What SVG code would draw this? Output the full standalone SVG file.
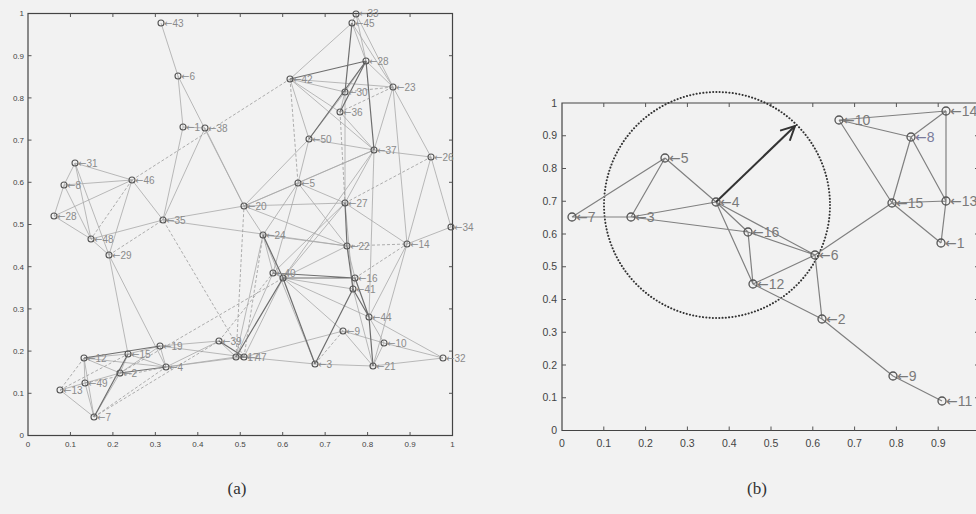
<svg xmlns="http://www.w3.org/2000/svg" width="976" height="514" viewBox="0 0 976 514">
<style>
.bg{fill:#f2f2f2}
.frame{fill:none;stroke:#444;stroke-width:1.2}
.tick{fill:none;stroke:#555;stroke-width:1}
.tl{font-family:"Liberation Sans","DejaVu Sans",sans-serif;fill:#444}
.tla{font-size:8px}
.tlb{font-size:10.5px}
.cap{font-family:"Liberation Serif","DejaVu Serif",serif;font-size:17px;fill:#333;text-anchor:middle}
.e{stroke:#a8a8a8;stroke-width:0.8;fill:none}
.ed{stroke:#6e6e6e;stroke-width:1.2;fill:none}
.eq{stroke:#9a9a9a;stroke-width:0.8;stroke-dasharray:3 2;fill:none}
.eb{stroke:#808080;stroke-width:1.2;fill:none}
.na circle{fill:none;stroke:#555;stroke-width:1.1}
.na text{font-family:"Liberation Sans","DejaVu Sans",sans-serif;font-size:10px;fill:#8a8a8a}
.nb circle{fill:none;stroke:#555;stroke-width:1.3}
.nb text{font-family:"Liberation Sans","DejaVu Sans",sans-serif;font-size:14px;fill:#7a7a7a}
.ar{font-family:"DejaVu Sans",sans-serif}
.ring{fill:none;stroke:#333;stroke-width:2;stroke-dasharray:0.1 3.2;stroke-linecap:round}
.dir{stroke:#333;stroke-width:2;fill:none}
</style>
<defs>
<marker id="arr" viewBox="0 0 16 16" refX="15" refY="8" markerWidth="16" markerHeight="16" markerUnits="userSpaceOnUse" orient="auto"><path d="M1,1 L15,8 L1,15" fill="none" stroke="#333" stroke-width="2"/></marker>
</defs>
<rect class="bg" x="0" y="0" width="976" height="514"/>

<!-- Panel (a) axes -->
<g id="axes-a">
<rect class="frame" x="28" y="13.5" width="424.5" height="422"/>
<path class="tick" d="M70.45,435.5v-3.5M112.9,435.5v-3.5M155.35,435.5v-3.5M197.8,435.5v-3.5M240.25,435.5v-3.5M282.7,435.5v-3.5M325.15,435.5v-3.5M367.6,435.5v-3.5M410.05,435.5v-3.5
M70.45,13.5v3.5M112.9,13.5v3.5M155.35,13.5v3.5M197.8,13.5v3.5M240.25,13.5v3.5M282.7,13.5v3.5M325.15,13.5v3.5M367.6,13.5v3.5M410.05,13.5v3.5
M28,393.3h3.5M28,351.1h3.5M28,308.9h3.5M28,266.7h3.5M28,224.5h3.5M28,182.3h3.5M28,140.1h3.5M28,97.9h3.5M28,55.7h3.5
M452.5,393.3h-3.5M452.5,351.1h-3.5M452.5,308.9h-3.5M452.5,266.7h-3.5M452.5,224.5h-3.5M452.5,182.3h-3.5M452.5,140.1h-3.5M452.5,97.9h-3.5M452.5,55.7h-3.5"/>
<g class="tl tla" text-anchor="end">
<text x="24" y="438">0</text><text x="24" y="396">0.1</text><text x="24" y="354">0.2</text><text x="24" y="311.5">0.3</text><text x="24" y="269.5">0.4</text><text x="24" y="227">0.5</text><text x="24" y="185">0.6</text><text x="24" y="143">0.7</text><text x="24" y="100.5">0.8</text><text x="24" y="58.5">0.9</text><text x="24" y="16">1</text>
</g>
<g class="tl tla" text-anchor="middle">
<text x="28" y="447">0</text><text x="70.45" y="447">0.1</text><text x="112.9" y="447">0.2</text><text x="155.35" y="447">0.3</text><text x="197.8" y="447">0.4</text><text x="240.25" y="447">0.5</text><text x="282.7" y="447">0.6</text><text x="325.15" y="447">0.7</text><text x="367.6" y="447">0.8</text><text x="410.05" y="447">0.9</text><text x="452.5" y="447">1</text>
</g>
</g>

<!-- Panel (a) connectors -->
<g id="connectors-a">
<path class="e" d="M161,23L178,76M178,76L183,127M178,76L244,206M183,127L205,128M183,127L163,220M205,128L163,220M205,128L244,206
M75,163L64,185M75,163L132,180M75,163L91,239M75,163L109,255M64,185L132,180M64,185L54,216M64,185L91,239M54,216L132,180M54,216L91,239
M132,180L163,220M132,180L109,255M91,239L163,220M91,239L109,255M109,255L128,354M109,255L166,367M163,220L244,206M163,220L347,246
M84,358L128,354M84,358L85,383M84,358L120,373M84,358L94,417M128,354L160,346M128,354L120,373M128,354L166,367M120,373L85,383M120,373L94,417
M85,383L60,390M85,383L94,417M60,390L94,417M160,346L219,341M160,346L166,367M166,367L219,341M166,367L236,357M160,346L244,357M219,341L236,357
M120,373L160,346M166,367L244,357M84,358L166,367
M244,206L298,183M244,206L345,203M244,206L263,235M244,206L309,139M244,206L374,150M244,206L347,246
M298,183L309,139M298,183L345,203M298,183L263,235M298,183L273,273M298,183L347,246M298,183L374,150
M263,235L347,246M263,235L315,364M263,235L273,273M273,273L283,278M283,278L353,289M283,278L347,246M283,278L345,203M273,273L345,203
M283,278L369,317M283,278L343,331M273,273L236,357M283,278L244,357M283,278L374,150
M345,203L353,289M345,203L374,150M345,203L407,244M347,246L355,278M355,278L353,289M353,289L373,366M369,317L384,343M369,317L443,358
M407,244L369,317M407,244L373,366M407,244L451,227M407,244L431,157M343,331L384,343M343,331L373,366M343,331L244,357
M315,364L373,366M373,366L443,358M315,364L244,357M384,343L443,358M384,343L373,366M374,150L369,317
M431,157L374,150M431,157L393,87M431,157L451,227M374,150L340,112M374,150L309,139M374,150L393,87
M340,112L345,92M340,112L290,79M345,92L290,79M345,92L366,61M345,92L345,203M345,92L309,139
M290,79L352,23M290,79L393,87M290,79L309,139M290,79L374,150M352,23L366,61M352,23L393,87M356,14L352,23M356,14L366,61M356,14L393,87
M366,61L393,87M393,87L407,244M236,357L244,357M236,357L263,235"/>
<path class="ed" d="M352,23L345,92M290,79L366,61M366,61L340,112M366,61L309,139M283,278L355,278M273,273L355,278M263,235L283,278
M345,203L347,246M347,246L353,289M353,289L369,317M369,317L373,366M355,278L369,317M353,289L315,364M366,61L374,150M283,278L315,364
M84,358L160,346M120,373L166,367M219,341L244,357M128,354L94,417M283,278L236,357"/>
<path class="eq" d="M132,180L290,79M132,180L91,239M109,255L163,220M60,390L128,354M84,358L60,390M94,417L166,367M85,383L166,367
M120,373L283,278M94,417L219,341M219,341L273,273M345,203L431,157M347,246L407,244M355,278L407,244M343,331L315,364
M340,112L345,203M340,112L393,87M345,92L393,87M290,79L298,183M244,357L163,220M244,357L263,235M236,357L244,206"/>
</g>

<!-- Panel (a) nodes -->
<g class="na">
<g id="a43"><circle cx="161" cy="23" r="3"/><text x="164" y="26.5"><tspan class="ar">←</tspan>43</text></g>
<g id="a6"><circle cx="178" cy="76" r="3"/><text x="181" y="79.5"><tspan class="ar">←</tspan>6</text></g>
<g id="a1"><circle cx="183" cy="127" r="3"/><text x="186" y="130.5"><tspan class="ar">←</tspan>1</text></g>
<g id="a38"><circle cx="205" cy="128" r="3"/><text x="208" y="131.5"><tspan class="ar">←</tspan>38</text></g>
<g id="a31"><circle cx="75" cy="163" r="3"/><text x="78" y="166.5"><tspan class="ar">←</tspan>31</text></g>
<g id="a8"><circle cx="64" cy="185" r="3"/><text x="67" y="188.5"><tspan class="ar">←</tspan>8</text></g>
<g id="a46"><circle cx="132" cy="180" r="3"/><text x="135" y="183.5"><tspan class="ar">←</tspan>46</text></g>
<g id="a28b"><circle cx="54" cy="216" r="3"/><text x="57" y="219.5"><tspan class="ar">←</tspan>28</text></g>
<g id="a35"><circle cx="163" cy="220" r="3"/><text x="166" y="223.5"><tspan class="ar">←</tspan>35</text></g>
<g id="a48"><circle cx="91" cy="239" r="3"/><text x="94" y="242.5"><tspan class="ar">←</tspan>48</text></g>
<g id="a29"><circle cx="109" cy="255" r="3"/><text x="112" y="258.5"><tspan class="ar">←</tspan>29</text></g>
<g id="a33"><circle cx="356" cy="14" r="3"/><text x="359" y="16.5"><tspan class="ar">←</tspan>33</text></g>
<g id="a45"><circle cx="352" cy="23" r="3"/><text x="355" y="27"><tspan class="ar">←</tspan>45</text></g>
<g id="a28"><circle cx="366" cy="61" r="3"/><text x="369" y="64.5"><tspan class="ar">←</tspan>28</text></g>
<g id="a42"><circle cx="290" cy="79" r="3"/><text x="293" y="82.5"><tspan class="ar">←</tspan>42</text></g>
<g id="a23"><circle cx="393" cy="87" r="3"/><text x="396" y="90.5"><tspan class="ar">←</tspan>23</text></g>
<g id="a30"><circle cx="345" cy="92" r="3"/><text x="348" y="95.5"><tspan class="ar">←</tspan>30</text></g>
<g id="a36"><circle cx="340" cy="112" r="3"/><text x="343" y="115.5"><tspan class="ar">←</tspan>36</text></g>
<g id="a50"><circle cx="309" cy="139" r="3"/><text x="312" y="142.5"><tspan class="ar">←</tspan>50</text></g>
<g id="a37"><circle cx="374" cy="150" r="3"/><text x="377" y="153.5"><tspan class="ar">←</tspan>37</text></g>
<g id="a26"><circle cx="431" cy="157" r="3"/><text x="434" y="160.5"><tspan class="ar">←</tspan>26</text></g>
<g id="a5"><circle cx="298" cy="183" r="3"/><text x="301" y="186.5"><tspan class="ar">←</tspan>5</text></g>
<g id="a20"><circle cx="244" cy="206" r="3"/><text x="247" y="209.5"><tspan class="ar">←</tspan>20</text></g>
<g id="a27"><circle cx="345" cy="203" r="3"/><text x="348" y="206.5"><tspan class="ar">←</tspan>27</text></g>
<g id="a34"><circle cx="451" cy="227" r="3"/><text x="454" y="230.5"><tspan class="ar">←</tspan>34</text></g>
<g id="a24"><circle cx="263" cy="235" r="3"/><text x="266" y="238.5"><tspan class="ar">←</tspan>24</text></g>
<g id="a22"><circle cx="347" cy="246" r="3"/><text x="350" y="249.5"><tspan class="ar">←</tspan>22</text></g>
<g id="a14"><circle cx="407" cy="244" r="3"/><text x="410" y="247.5"><tspan class="ar">←</tspan>14</text></g>
<g id="a40"><circle cx="273" cy="273" r="3"/><text x="276" y="276.5"><tspan class="ar">←</tspan>40</text></g>
<g id="a11"><circle cx="283" cy="278" r="3"/></g>
<g id="a16"><circle cx="355" cy="278" r="3"/><text x="358" y="281.5"><tspan class="ar">←</tspan>16</text></g>
<g id="a41"><circle cx="353" cy="289" r="3"/><text x="356" y="292.5"><tspan class="ar">←</tspan>41</text></g>
<g id="a44"><circle cx="369" cy="317" r="3"/><text x="372" y="320.5"><tspan class="ar">←</tspan>44</text></g>
<g id="a9"><circle cx="343" cy="331" r="3"/><text x="346" y="334.5"><tspan class="ar">←</tspan>9</text></g>
<g id="a10"><circle cx="384" cy="343" r="3"/><text x="387" y="346.5"><tspan class="ar">←</tspan>10</text></g>
<g id="a32"><circle cx="443" cy="358" r="3"/><text x="446" y="361.5"><tspan class="ar">←</tspan>32</text></g>
<g id="a3"><circle cx="315" cy="364" r="3"/><text x="318" y="367.5"><tspan class="ar">←</tspan>3</text></g>
<g id="a21"><circle cx="373" cy="366" r="3"/><text x="376" y="369.5"><tspan class="ar">←</tspan>21</text></g>
<g id="a39"><circle cx="219" cy="341" r="3"/><text x="222" y="344.5"><tspan class="ar">←</tspan>39</text></g>
<g id="a17"><circle cx="236" cy="357" r="3"/><text x="239" y="360.5"><tspan class="ar">←</tspan>17</text></g>
<g id="a47"><circle cx="244" cy="357" r="3"/><text x="247" y="360.5"><tspan class="ar">←</tspan>47</text></g>
<g id="a19"><circle cx="160" cy="346" r="3"/><text x="163" y="349.5"><tspan class="ar">←</tspan>19</text></g>
<g id="a12"><circle cx="84" cy="358" r="3"/><text x="87" y="361.5"><tspan class="ar">←</tspan>12</text></g>
<g id="a15"><circle cx="128" cy="354" r="3"/><text x="131" y="357.5"><tspan class="ar">←</tspan>15</text></g>
<g id="a4"><circle cx="166" cy="367" r="3"/><text x="169" y="370.5"><tspan class="ar">←</tspan>4</text></g>
<g id="a2"><circle cx="120" cy="373" r="3"/><text x="123" y="376.5"><tspan class="ar">←</tspan>2</text></g>
<g id="a49"><circle cx="85" cy="383" r="3"/><text x="88" y="386.5"><tspan class="ar">←</tspan>49</text></g>
<g id="a13"><circle cx="60" cy="390" r="3"/><text x="63" y="393.5"><tspan class="ar">←</tspan>13</text></g>
<g id="a7"><circle cx="94" cy="417" r="3"/><text x="97" y="420.5"><tspan class="ar">←</tspan>7</text></g>
</g>

<!-- Panel (b) axes -->
<g id="axes-b">
<path class="frame" d="M980,103H562V430.5H980"/>
<path class="tick" d="M603.8,430.5v-4M645.6,430.5v-4M687.4,430.5v-4M729.2,430.5v-4M771,430.5v-4M812.8,430.5v-4M854.6,430.5v-4M896.4,430.5v-4M938.2,430.5v-4
M603.8,103v4M645.6,103v4M687.4,103v4M729.2,103v4M771,103v4M812.8,103v4M854.6,103v4M896.4,103v4M938.2,103v4
M562,397.75h4M562,365h4M562,332.25h4M562,299.5h4M562,266.75h4M562,234h4M562,201.25h4M562,168.5h4M562,135.75h4
M980,397.75h-5M980,365h-5M980,332.25h-5M980,299.5h-5M980,266.75h-5M980,234h-5M980,201.25h-5M980,168.5h-5M980,135.75h-5"/>
<g class="tl tlb" text-anchor="end">
<text x="557" y="434">0</text><text x="557" y="401">0.1</text><text x="557" y="368.5">0.2</text><text x="557" y="335.5">0.3</text><text x="557" y="303">0.4</text><text x="557" y="270">0.5</text><text x="557" y="237.5">0.6</text><text x="557" y="204.5">0.7</text><text x="557" y="172">0.8</text><text x="557" y="139">0.9</text><text x="557" y="106.5">1</text>
</g>
<g class="tl tlb" text-anchor="middle">
<text x="562" y="447">0</text><text x="603.8" y="447">0.1</text><text x="645.6" y="447">0.2</text><text x="687.4" y="447">0.3</text><text x="729.2" y="447">0.4</text><text x="771" y="447">0.5</text><text x="812.8" y="447">0.6</text><text x="854.6" y="447">0.7</text><text x="896.4" y="447">0.8</text><text x="938.2" y="447">0.9</text>
</g>
</g>

<!-- Panel (b) connectors -->
<g id="connectors-b">
<circle class="ring" cx="717" cy="205" r="113"/>
<path class="eb" d="M572,217L665,158M572,217L631,217M665,158L631,217M665,158L716,202M631,217L716,202M631,217L748,232M716,202L748,232
M716,202L753,284M716,202L815,255M748,232L753,284M748,232L815,255M753,284L815,255M815,255L822,319M753,284L822,319M815,255L892,203
M822,319L893,376M893,376L942,401M892,203L839,120M892,203L911,137M892,203L946,201M892,203L941,243M839,120L946,111M839,120L911,137
M911,137L946,111M911,137L946,201M946,111L946,201M946,201L941,243"/>
<line class="dir" x1="716" y1="202" x2="795" y2="126" marker-end="url(#arr)"/>
</g>

<!-- Panel (b) nodes -->
<g class="nb">
<g id="b7"><circle cx="572" cy="217" r="4"/><text x="576" y="222"><tspan class="ar">←</tspan>7</text></g>
<g id="b3"><circle cx="631" cy="217" r="4"/><text x="635" y="222"><tspan class="ar">←</tspan>3</text></g>
<g id="b5"><circle cx="665" cy="158" r="4"/><text x="669" y="163"><tspan class="ar">←</tspan>5</text></g>
<g id="b4"><circle cx="716" cy="202" r="4"/><text x="720" y="207"><tspan class="ar">←</tspan>4</text></g>
<g id="b16"><circle cx="748" cy="232" r="4"/><text x="752" y="237"><tspan class="ar">←</tspan>16</text></g>
<g id="b12"><circle cx="753" cy="284" r="4"/><text x="757" y="289"><tspan class="ar">←</tspan>12</text></g>
<g id="b6"><circle cx="815" cy="255" r="4"/><text x="819" y="260"><tspan class="ar">←</tspan>6</text></g>
<g id="b2"><circle cx="822" cy="319" r="4"/><text x="826" y="324"><tspan class="ar">←</tspan>2</text></g>
<g id="b9"><circle cx="893" cy="376" r="4"/><text x="897" y="381"><tspan class="ar">←</tspan>9</text></g>
<g id="b11"><circle cx="942" cy="401" r="4"/><text x="946" y="406"><tspan class="ar">←</tspan>11</text></g>
<g id="b15"><circle cx="892" cy="203" r="4"/><text x="896" y="208"><tspan class="ar">←</tspan>15</text></g>
<g id="b10"><circle cx="839" cy="120" r="4"/><text x="843" y="125"><tspan class="ar">←</tspan>10</text></g>
<g id="b14"><circle cx="946" cy="111" r="4"/><text x="950" y="116"><tspan class="ar">←</tspan>14</text></g>
<g id="b8"><circle cx="911" cy="137" r="4"/><text x="915" y="142" style="fill:#7a7a9a"><tspan class="ar">←</tspan>8</text></g>
<g id="b13"><circle cx="946" cy="201" r="4"/><text x="950" y="206"><tspan class="ar">←</tspan>13</text></g>
<g id="b1"><circle cx="941" cy="243" r="4"/><text x="945" y="248"><tspan class="ar">←</tspan>1</text></g>
</g>

<text class="cap" x="237" y="494">(a)</text>
<text class="cap" x="757" y="494">(b)</text>
</svg>
